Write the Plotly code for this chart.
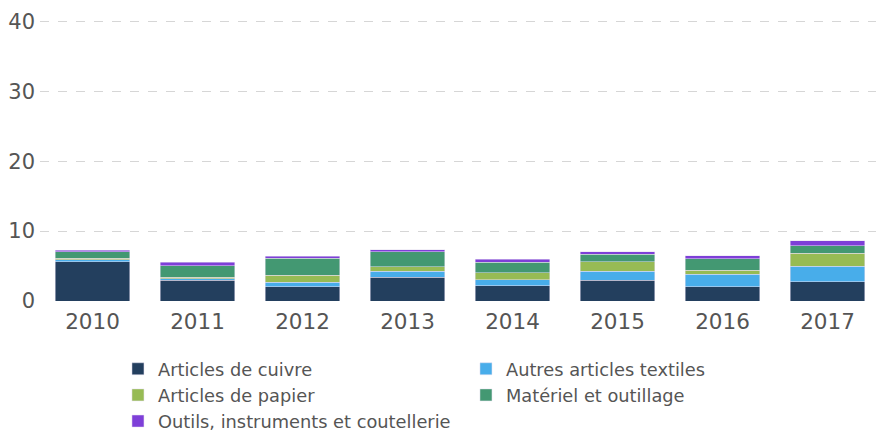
import plotly.graph_objects as go

years = ["2010", "2011", "2012", "2013", "2014", "2015", "2016", "2017"]
cuivre = [5.6, 2.96, 2.02, 3.43, 2.2, 2.96, 2.02, 2.72]
textiles = [0.27, 0.24, 0.66, 0.8, 0.85, 1.27, 1.83, 2.25]
papier = [0.23, 0.18, 0.98, 0.7, 0.99, 1.4, 0.56, 1.83]
materiel = [0.94, 1.65, 2.44, 2.11, 1.5, 1.08, 1.65, 1.09]
outils = [0.19, 0.51, 0.33, 0.28, 0.46, 0.37, 0.42, 0.71]

series = [
    ("Articles de cuivre", cuivre, "#233f5e"),
    ("Autres articles textiles", textiles, "#48adea"),
    ("Articles de papier", papier, "#97bb54"),
    ("Matériel et outillage", materiel, "#439872"),
    ("Outils, instruments et coutellerie", outils, "#7e3fd8"),
]

fig = go.Figure()
for name, vals, col in series:
    fig.add_trace(go.Bar(x=years, y=vals, name=name, marker_color=col,
                         marker_line_color="#e6e0f0", marker_line_width=0.5))

fig.update_layout(
    barmode="stack",
    bargap=0.29,
    width=884, height=436,
    margin=dict(l=32, r=12, t=12, b=143),
    paper_bgcolor="white", plot_bgcolor="white",
    font=dict(family="DejaVu Sans, Verdana, sans-serif", color="#555555"),
    showlegend=True,
    legend=dict(orientation="h", xref="container", yref="container",
                x=0.1244, xanchor="left", y=0.214, yanchor="top",
                entrywidth=303, entrywidthmode="pixels", tracegroupgap=0,
                font=dict(size=17.8, color="#555555"), traceorder="normal",
                itemclick=False),
    yaxis=dict(range=[0, 40.2], tickvals=[0, 10, 20, 30, 40], showgrid=True,
               gridcolor="#d6d6d6", griddash="dash", gridwidth=1, automargin=False,
               zeroline=False, tickfont=dict(size=21, color="#555555"), ticks="",
               ticklabelstandoff=4),
    xaxis=dict(showgrid=False, zeroline=False, showline=False, automargin=False,
               tickfont=dict(size=21.5, color="#555555"), ticklabelstandoff=5),
)

fig.write_html("out.html")
